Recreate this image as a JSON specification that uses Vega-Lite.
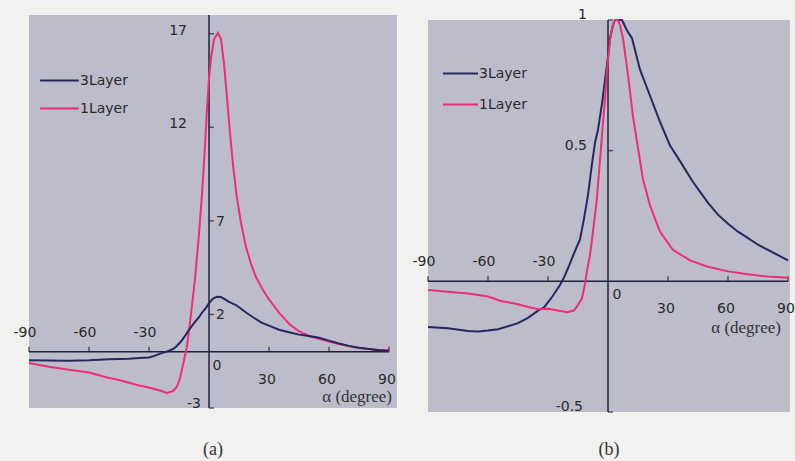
{
  "$schema": "https://vega.github.io/schema/vega-lite/v6.json",
  "padding": {"left": 13, "top": 8, "right": 5, "bottom": 5},
  "background": "#f1f1ef",
  "spacing": 31,
  "bounds": "flush",
  "resolve": {"legend": {"color": "independent"}},
  "config": {
    "view": {"stroke": null},
    "text": {"font": "DejaVu Sans", "fontSize": 14, "color": "#2a2a2a"}
  },
  "datasets": {
    "curvesA": [
      {"s":"1Layer","v":-90,"y":-0.6},{"s":"1Layer","v":-80,"y":-0.8},{"s":"1Layer","v":-70,"y":-0.95},{"s":"1Layer","v":-60,"y":-1.1},{"s":"1Layer","v":-50,"y":-1.4},{"s":"1Layer","v":-45,"y":-1.5},{"s":"1Layer","v":-40,"y":-1.65},{"s":"1Layer","v":-35,"y":-1.8},{"s":"1Layer","v":-30,"y":-1.9},{"s":"1Layer","v":-25,"y":-2.05},{"s":"1Layer","v":-21,"y":-2.2},{"s":"1Layer","v":-18,"y":-2.1},{"s":"1Layer","v":-16,"y":-1.85},{"s":"1Layer","v":-14.5,"y":-1.4},{"s":"1Layer","v":-13,"y":-0.7},{"s":"1Layer","v":-11,"y":0.3},{"s":"1Layer","v":-9,"y":2.0},{"s":"1Layer","v":-7,"y":3.9},{"s":"1Layer","v":-5,"y":6.3},{"s":"1Layer","v":-3.5,"y":8.4},{"s":"1Layer","v":-2,"y":11},{"s":"1Layer","v":-1,"y":13},{"s":"1Layer","v":0,"y":14.6},{"s":"1Layer","v":1,"y":15.7},{"s":"1Layer","v":2.5,"y":16.7},{"s":"1Layer","v":4.5,"y":17.05},{"s":"1Layer","v":6,"y":16.7},{"s":"1Layer","v":7.5,"y":15.4},{"s":"1Layer","v":9,"y":13.6},{"s":"1Layer","v":10.5,"y":11.7},{"s":"1Layer","v":12,"y":10.0},{"s":"1Layer","v":14,"y":8.2},{"s":"1Layer","v":16,"y":6.9},{"s":"1Layer","v":18.5,"y":5.6},{"s":"1Layer","v":21,"y":4.7},{"s":"1Layer","v":23.5,"y":4.0},{"s":"1Layer","v":27,"y":3.3},{"s":"1Layer","v":30,"y":2.8},{"s":"1Layer","v":35,"y":2.1},{"s":"1Layer","v":40,"y":1.5},{"s":"1Layer","v":45,"y":1.1},{"s":"1Layer","v":50,"y":0.85},{"s":"1Layer","v":55,"y":0.7},{"s":"1Layer","v":60,"y":0.55},{"s":"1Layer","v":65,"y":0.42},{"s":"1Layer","v":70,"y":0.3},{"s":"1Layer","v":75,"y":0.2},{"s":"1Layer","v":80,"y":0.15},{"s":"1Layer","v":85,"y":0.1},{"s":"1Layer","v":90,"y":0.1},
      {"s":"3Layer","v":-90,"y":-0.45},{"s":"3Layer","v":-80,"y":-0.46},{"s":"3Layer","v":-70,"y":-0.47},{"s":"3Layer","v":-60,"y":-0.45},{"s":"3Layer","v":-50,"y":-0.4},{"s":"3Layer","v":-40,"y":-0.37},{"s":"3Layer","v":-35,"y":-0.33},{"s":"3Layer","v":-30,"y":-0.3},{"s":"3Layer","v":-27,"y":-0.2},{"s":"3Layer","v":-24,"y":-0.08},{"s":"3Layer","v":-21.5,"y":0.0},{"s":"3Layer","v":-18,"y":0.15},{"s":"3Layer","v":-16.5,"y":0.27},{"s":"3Layer","v":-14,"y":0.55},{"s":"3Layer","v":-12,"y":0.85},{"s":"3Layer","v":-10,"y":1.18},{"s":"3Layer","v":-7,"y":1.6},{"s":"3Layer","v":-5,"y":1.85},{"s":"3Layer","v":-3.5,"y":2.1},{"s":"3Layer","v":-1.5,"y":2.35},{"s":"3Layer","v":0,"y":2.6},{"s":"3Layer","v":2,"y":2.85},{"s":"3Layer","v":4,"y":2.95},{"s":"3Layer","v":6,"y":2.93},{"s":"3Layer","v":8,"y":2.8},{"s":"3Layer","v":10,"y":2.67},{"s":"3Layer","v":13.5,"y":2.5},{"s":"3Layer","v":16,"y":2.3},{"s":"3Layer","v":18.5,"y":2.1},{"s":"3Layer","v":22,"y":1.85},{"s":"3Layer","v":26.5,"y":1.55},{"s":"3Layer","v":30,"y":1.4},{"s":"3Layer","v":35,"y":1.18},{"s":"3Layer","v":40,"y":1.05},{"s":"3Layer","v":45,"y":0.92},{"s":"3Layer","v":50,"y":0.85},{"s":"3Layer","v":55,"y":0.75},{"s":"3Layer","v":60,"y":0.6},{"s":"3Layer","v":65,"y":0.45},{"s":"3Layer","v":70,"y":0.32},{"s":"3Layer","v":75,"y":0.22},{"s":"3Layer","v":80,"y":0.15},{"s":"3Layer","v":85,"y":0.08},{"s":"3Layer","v":90,"y":0.05}
    ],
    "curvesB": [
      {"s":"3Layer","v":-90,"y":-0.175},{"s":"3Layer","v":-80,"y":-0.18},{"s":"3Layer","v":-70,"y":-0.19},{"s":"3Layer","v":-65,"y":-0.192},{"s":"3Layer","v":-60,"y":-0.188},{"s":"3Layer","v":-55,"y":-0.183},{"s":"3Layer","v":-50,"y":-0.172},{"s":"3Layer","v":-45,"y":-0.16},{"s":"3Layer","v":-40,"y":-0.14},{"s":"3Layer","v":-35,"y":-0.112},{"s":"3Layer","v":-32,"y":-0.1},{"s":"3Layer","v":-28,"y":-0.06},{"s":"3Layer","v":-24,"y":-0.014},{"s":"3Layer","v":-22,"y":0.015},{"s":"3Layer","v":-20,"y":0.05},{"s":"3Layer","v":-18,"y":0.088},{"s":"3Layer","v":-16,"y":0.125},{"s":"3Layer","v":-14,"y":0.16},{"s":"3Layer","v":-12,"y":0.24},{"s":"3Layer","v":-10,"y":0.33},{"s":"3Layer","v":-8,"y":0.45},{"s":"3Layer","v":-6.5,"y":0.53},{"s":"3Layer","v":-5,"y":0.58},{"s":"3Layer","v":-3,"y":0.68},{"s":"3Layer","v":-1.5,"y":0.77},{"s":"3Layer","v":0,"y":0.86},{"s":"3Layer","v":1,"y":0.93},{"s":"3Layer","v":2.5,"y":0.98},{"s":"3Layer","v":3.5,"y":1.0},{"s":"3Layer","v":5,"y":1.0},{"s":"3Layer","v":7,"y":1.0},{"s":"3Layer","v":9.5,"y":0.96},{"s":"3Layer","v":12,"y":0.93},{"s":"3Layer","v":14,"y":0.87},{"s":"3Layer","v":16,"y":0.81},{"s":"3Layer","v":18.5,"y":0.76},{"s":"3Layer","v":21,"y":0.71},{"s":"3Layer","v":26,"y":0.61},{"s":"3Layer","v":31,"y":0.52},{"s":"3Layer","v":36,"y":0.46},{"s":"3Layer","v":42.5,"y":0.38},{"s":"3Layer","v":50,"y":0.3},{"s":"3Layer","v":55,"y":0.255},{"s":"3Layer","v":60,"y":0.22},{"s":"3Layer","v":65,"y":0.19},{"s":"3Layer","v":70,"y":0.165},{"s":"3Layer","v":75,"y":0.14},{"s":"3Layer","v":80,"y":0.12},{"s":"3Layer","v":85,"y":0.1},{"s":"3Layer","v":90,"y":0.08},
      {"s":"1Layer","v":-90,"y":-0.033},{"s":"1Layer","v":-80,"y":-0.04},{"s":"1Layer","v":-70,"y":-0.047},{"s":"1Layer","v":-60,"y":-0.058},{"s":"1Layer","v":-53.5,"y":-0.075},{"s":"1Layer","v":-50,"y":-0.08},{"s":"1Layer","v":-45,"y":-0.088},{"s":"1Layer","v":-40,"y":-0.098},{"s":"1Layer","v":-35,"y":-0.107},{"s":"1Layer","v":-30,"y":-0.105},{"s":"1Layer","v":-25,"y":-0.112},{"s":"1Layer","v":-20.5,"y":-0.118},{"s":"1Layer","v":-17,"y":-0.112},{"s":"1Layer","v":-15,"y":-0.09},{"s":"1Layer","v":-13,"y":-0.065},{"s":"1Layer","v":-11.5,"y":-0.01},{"s":"1Layer","v":-10.5,"y":0.04},{"s":"1Layer","v":-9,"y":0.1},{"s":"1Layer","v":-8,"y":0.16},{"s":"1Layer","v":-5.5,"y":0.32},{"s":"1Layer","v":-3,"y":0.56},{"s":"1Layer","v":-1.5,"y":0.7},{"s":"1Layer","v":-0.5,"y":0.81},{"s":"1Layer","v":1,"y":0.92},{"s":"1Layer","v":2,"y":0.97},{"s":"1Layer","v":3.5,"y":1.0},{"s":"1Layer","v":5,"y":1.0},{"s":"1Layer","v":6,"y":0.98},{"s":"1Layer","v":7.5,"y":0.93},{"s":"1Layer","v":10,"y":0.79},{"s":"1Layer","v":12.5,"y":0.63},{"s":"1Layer","v":15,"y":0.51},{"s":"1Layer","v":17.5,"y":0.39},{"s":"1Layer","v":21,"y":0.29},{"s":"1Layer","v":26,"y":0.19},{"s":"1Layer","v":32.5,"y":0.12},{"s":"1Layer","v":41,"y":0.08},{"s":"1Layer","v":49.5,"y":0.057},{"s":"1Layer","v":60,"y":0.038},{"s":"1Layer","v":70,"y":0.027},{"s":"1Layer","v":80,"y":0.018},{"s":"1Layer","v":90,"y":0.014}
    ],
    "xlab": [
      {"v":-90,"label":"-90"},{"v":-60,"label":"-60"},{"v":-30,"label":"-30"},{"v":0,"label":"0"},{"v":30,"label":"30"},{"v":60,"label":"60"},{"v":90,"label":"90"}
    ],
    "ylabA": [
      {"y":17,"label":"17"},{"y":12,"label":"12"},{"y":7,"label":"7"},{"y":2,"label":"2"},{"y":-3,"label":"-3"}
    ],
    "ylabB": [
      {"y":1,"label":"1"},{"y":0.5,"label":"0.5"},{"y":-0.5,"label":"-0.5"}
    ],
    "one": [{"k": 1}]
  },
  "hconcat": [
    {
      "width": 368,
      "height": 393,
      "view": {"fill": "#bdbccb"},
      "title": {"text": "(a)", "orient": "bottom", "font": "Liberation Serif", "fontSize": 18, "fontWeight": "normal", "color": "#333333", "offset": 30},
      "layer": [
        {"data": {"name": "one"}, "mark": {"type": "rule", "color": "#20203a", "strokeWidth": 1.5},
         "encoding": {
           "x": {"datum": -90, "type": "quantitative", "scale": {"domain": [-90, 94], "nice": false, "zero": false}, "axis": null},
           "x2": {"datum": 90},
           "y": {"datum": 0, "type": "quantitative", "scale": {"domain": [-3, 18], "nice": false, "zero": false}, "axis": null}}},
        {"data": {"name": "one"}, "mark": {"type": "rule", "color": "#20203a", "strokeWidth": 1.5},
         "encoding": {
           "x": {"datum": 0, "type": "quantitative", "scale": {"domain": [-90, 94], "nice": false, "zero": false}, "axis": null},
           "y": {"datum": -3, "type": "quantitative", "scale": {"domain": [-3, 18], "nice": false, "zero": false}, "axis": null},
           "y2": {"datum": 18}}},
        {"data": {"name": "xlab"}, "transform": [{"filter": "datum.v != 0"}],
         "mark": {"type": "tick", "orient": "vertical", "size": 5, "thickness": 1.5, "yOffset": -2.5, "color": "#20203a"},
         "encoding": {
           "x": {"field": "v", "type": "quantitative", "scale": {"domain": [-90, 94], "nice": false, "zero": false}, "axis": null},
           "y": {"datum": 0, "type": "quantitative", "scale": {"domain": [-3, 18], "nice": false, "zero": false}, "axis": null}}},
        {"data": {"name": "ylabA"},
         "mark": {"type": "tick", "orient": "horizontal", "size": 5, "thickness": 1.5, "xOffset": 2.5, "color": "#20203a"},
         "encoding": {
           "x": {"datum": 0, "type": "quantitative", "scale": {"domain": [-90, 94], "nice": false, "zero": false}, "axis": null},
           "y": {"field": "y", "type": "quantitative", "scale": {"domain": [-3, 18], "nice": false, "zero": false}, "axis": null}}},
        {"data": {"name": "curvesA"},
         "mark": {"type": "line", "strokeWidth": 2},
         "encoding": {
           "x": {"field": "v", "type": "quantitative", "scale": {"domain": [-90, 94], "nice": false, "zero": false}, "axis": null},
           "y": {"field": "y", "type": "quantitative", "scale": {"domain": [-3, 18], "nice": false, "zero": false}, "axis": null},
           "color": {"field": "s", "type": "nominal",
             "scale": {"domain": ["3Layer", "1Layer"], "range": ["#27275f", "#ec2f74"]},
             "legend": {"orient": "none", "legendX": 10, "legendY": 45, "title": null, "symbolType": "stroke", "symbolSize": 1500, "symbolStrokeWidth": 2, "labelFont": "DejaVu Sans", "labelFontSize": 14, "labelColor": "#2a2a2a", "labelOffset": 0, "rowPadding": -6, "padding": 0}}
         }},
        {"data": {"name": "xlab"}, "transform": [{"filter": "datum.v < 0"}],
         "mark": {"type": "text", "dx": -4, "dy": -19},
         "encoding": {
           "x": {"field": "v", "type": "quantitative", "scale": {"domain": [-90, 94], "nice": false, "zero": false}, "axis": null},
           "y": {"datum": 0, "type": "quantitative", "scale": {"domain": [-3, 18], "nice": false, "zero": false}, "axis": null},
           "text": {"field": "label"}}},
        {"data": {"name": "xlab"}, "transform": [{"filter": "datum.v == 0"}],
         "mark": {"type": "text", "dx": 8, "dy": 14},
         "encoding": {
           "x": {"field": "v", "type": "quantitative", "scale": {"domain": [-90, 94], "nice": false, "zero": false}, "axis": null},
           "y": {"datum": 0, "type": "quantitative", "scale": {"domain": [-3, 18], "nice": false, "zero": false}, "axis": null},
           "text": {"field": "label"}}},
        {"data": {"name": "xlab"}, "transform": [{"filter": "datum.v > 0"}],
         "mark": {"type": "text", "dx": -2, "dy": 28},
         "encoding": {
           "x": {"field": "v", "type": "quantitative", "scale": {"domain": [-90, 94], "nice": false, "zero": false}, "axis": null},
           "y": {"datum": 0, "type": "quantitative", "scale": {"domain": [-3, 18], "nice": false, "zero": false}, "axis": null},
           "text": {"field": "label"}}},
        {"data": {"name": "ylabA"}, "transform": [{"filter": "datum.y > 10"}],
         "mark": {"type": "text", "align": "right", "dx": -22, "dy": -3},
         "encoding": {
           "x": {"datum": 0, "type": "quantitative", "scale": {"domain": [-90, 94], "nice": false, "zero": false}, "axis": null},
           "y": {"field": "y", "type": "quantitative", "scale": {"domain": [-3, 18], "nice": false, "zero": false}, "axis": null},
           "text": {"field": "label"}}},
        {"data": {"name": "ylabA"}, "transform": [{"filter": "datum.y < 0"}],
         "mark": {"type": "text", "align": "right", "dx": -8, "dy": -4},
         "encoding": {
           "x": {"datum": 0, "type": "quantitative", "scale": {"domain": [-90, 94], "nice": false, "zero": false}, "axis": null},
           "y": {"field": "y", "type": "quantitative", "scale": {"domain": [-3, 18], "nice": false, "zero": false}, "axis": null},
           "text": {"field": "label"}}},
        {"data": {"name": "ylabA"}, "transform": [{"filter": "datum.y > 0 && datum.y < 10"}],
         "mark": {"type": "text", "align": "left", "dx": 7, "dy": 1},
         "encoding": {
           "x": {"datum": 0, "type": "quantitative", "scale": {"domain": [-90, 94], "nice": false, "zero": false}, "axis": null},
           "y": {"field": "y", "type": "quantitative", "scale": {"domain": [-3, 18], "nice": false, "zero": false}, "axis": null},
           "text": {"field": "label"}}},
        {"data": {"name": "one"},
         "mark": {"type": "text", "text": "α (degree)", "font": "Liberation Serif", "fontSize": 17, "align": "right", "dx": 3, "dy": 45, "color": "#333333"},
         "encoding": {
           "x": {"datum": 90, "type": "quantitative", "scale": {"domain": [-90, 94], "nice": false, "zero": false}, "axis": null},
           "y": {"datum": 0, "type": "quantitative", "scale": {"domain": [-3, 18], "nice": false, "zero": false}, "axis": null}}}
      ]
    },
    {
      "width": 362,
      "height": 397,
      "title": {"text": "(b)", "orient": "bottom", "font": "Liberation Serif", "fontSize": 18, "fontWeight": "normal", "color": "#333333", "offset": 27},
      "layer": [
        {"data": {"name": "one"}, "mark": {"type": "rect", "color": "#bdbccb"},
         "encoding": {
           "x": {"datum": -90, "type": "quantitative", "scale": {"domain": [-90, 91], "nice": false, "zero": false}, "axis": null},
           "x2": {"datum": 91},
           "y": {"datum": -0.5, "type": "quantitative", "scale": {"domain": [-0.5, 1.019], "nice": false, "zero": false}, "axis": null},
           "y2": {"datum": 1.0}}},
        {"data": {"name": "one"}, "mark": {"type": "rule", "color": "#20203a", "strokeWidth": 1.5},
         "encoding": {
           "x": {"datum": -90, "type": "quantitative", "scale": {"domain": [-90, 91], "nice": false, "zero": false}, "axis": null},
           "x2": {"datum": 90},
           "y": {"datum": 0, "type": "quantitative", "scale": {"domain": [-0.5, 1.019], "nice": false, "zero": false}, "axis": null}}},
        {"data": {"name": "one"}, "mark": {"type": "rule", "color": "#20203a", "strokeWidth": 1.5},
         "encoding": {
           "x": {"datum": 0, "type": "quantitative", "scale": {"domain": [-90, 91], "nice": false, "zero": false}, "axis": null},
           "y": {"datum": -0.5, "type": "quantitative", "scale": {"domain": [-0.5, 1.019], "nice": false, "zero": false}, "axis": null},
           "y2": {"datum": 1.0}}},
        {"data": {"name": "xlab"}, "transform": [{"filter": "datum.v != 0"}],
         "mark": {"type": "tick", "orient": "vertical", "size": 5, "thickness": 1.5, "yOffset": -2.5, "color": "#20203a"},
         "encoding": {
           "x": {"field": "v", "type": "quantitative", "scale": {"domain": [-90, 91], "nice": false, "zero": false}, "axis": null},
           "y": {"datum": 0, "type": "quantitative", "scale": {"domain": [-0.5, 1.019], "nice": false, "zero": false}, "axis": null}}},
        {"data": {"name": "ylabB"},
         "mark": {"type": "tick", "orient": "horizontal", "size": 5, "thickness": 1.5, "xOffset": 2.5, "color": "#20203a"},
         "encoding": {
           "x": {"datum": 0, "type": "quantitative", "scale": {"domain": [-90, 91], "nice": false, "zero": false}, "axis": null},
           "y": {"field": "y", "type": "quantitative", "scale": {"domain": [-0.5, 1.019], "nice": false, "zero": false}, "axis": null}}},
        {"data": {"name": "curvesB"},
         "mark": {"type": "line", "strokeWidth": 2},
         "encoding": {
           "x": {"field": "v", "type": "quantitative", "scale": {"domain": [-90, 91], "nice": false, "zero": false}, "axis": null},
           "y": {"field": "y", "type": "quantitative", "scale": {"domain": [-0.5, 1.019], "nice": false, "zero": false}, "axis": null},
           "color": {"field": "s", "type": "nominal",
             "scale": {"domain": ["3Layer", "1Layer"], "range": ["#27275f", "#ec2f74"]},
             "legend": {"orient": "none", "legendX": 14, "legendY": 40, "title": null, "symbolType": "stroke", "symbolSize": 1225, "symbolStrokeWidth": 2, "labelFont": "DejaVu Sans", "labelFontSize": 14, "labelColor": "#2a2a2a", "labelOffset": 0, "rowPadding": 5, "padding": 0}}
         }},
        {"data": {"name": "xlab"}, "transform": [{"filter": "datum.v < 0"}],
         "mark": {"type": "text", "dx": -4, "dy": -19},
         "encoding": {
           "x": {"field": "v", "type": "quantitative", "scale": {"domain": [-90, 91], "nice": false, "zero": false}, "axis": null},
           "y": {"datum": 0, "type": "quantitative", "scale": {"domain": [-0.5, 1.019], "nice": false, "zero": false}, "axis": null},
           "text": {"field": "label"}}},
        {"data": {"name": "xlab"}, "transform": [{"filter": "datum.v == 0"}],
         "mark": {"type": "text", "dx": 9, "dy": 14},
         "encoding": {
           "x": {"field": "v", "type": "quantitative", "scale": {"domain": [-90, 91], "nice": false, "zero": false}, "axis": null},
           "y": {"datum": 0, "type": "quantitative", "scale": {"domain": [-0.5, 1.019], "nice": false, "zero": false}, "axis": null},
           "text": {"field": "label"}}},
        {"data": {"name": "xlab"}, "transform": [{"filter": "datum.v > 0"}],
         "mark": {"type": "text", "dx": -2, "dy": 28},
         "encoding": {
           "x": {"field": "v", "type": "quantitative", "scale": {"domain": [-90, 91], "nice": false, "zero": false}, "axis": null},
           "y": {"datum": 0, "type": "quantitative", "scale": {"domain": [-0.5, 1.019], "nice": false, "zero": false}, "axis": null},
           "text": {"field": "label"}}},
        {"data": {"name": "ylabB"}, "transform": [{"filter": "datum.y > 0"}],
         "mark": {"type": "text", "align": "right", "dx": -21, "dy": -4.5},
         "encoding": {
           "x": {"datum": 0, "type": "quantitative", "scale": {"domain": [-90, 91], "nice": false, "zero": false}, "axis": null},
           "y": {"field": "y", "type": "quantitative", "scale": {"domain": [-0.5, 1.019], "nice": false, "zero": false}, "axis": null},
           "text": {"field": "label"}}},
        {"data": {"name": "ylabB"}, "transform": [{"filter": "datum.y < 0"}],
         "mark": {"type": "text", "align": "right", "dx": -25, "dy": -5},
         "encoding": {
           "x": {"datum": 0, "type": "quantitative", "scale": {"domain": [-90, 91], "nice": false, "zero": false}, "axis": null},
           "y": {"field": "y", "type": "quantitative", "scale": {"domain": [-0.5, 1.019], "nice": false, "zero": false}, "axis": null},
           "text": {"field": "label"}}},
        {"data": {"name": "one"},
         "mark": {"type": "text", "text": "α (degree)", "font": "Liberation Serif", "fontSize": 17, "align": "right", "dx": -7, "dy": 47, "color": "#333333"},
         "encoding": {
           "x": {"datum": 90, "type": "quantitative", "scale": {"domain": [-90, 91], "nice": false, "zero": false}, "axis": null},
           "y": {"datum": 0, "type": "quantitative", "scale": {"domain": [-0.5, 1.019], "nice": false, "zero": false}, "axis": null}}}
      ]
    }
  ]
}
